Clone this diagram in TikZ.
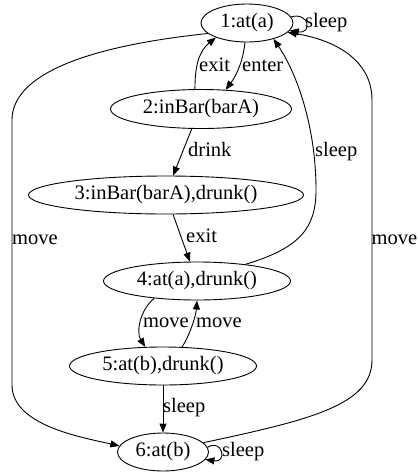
\documentclass[tikz,border=0pt]{standalone}
\usepackage{fontspec}
\setmainfont{Liberation Serif}
\usetikzlibrary{shapes.geometric,arrows.meta}
\begin{document}
\begin{tikzpicture}[x=1pt,y=-1pt,
  st/.style={draw, ellipse, inner sep=0pt, line width=0.9pt, minimum height=38pt, font=\fontsize{20.5}{24}\selectfont},
  lbl/.style={inner sep=0pt, anchor=west, font=\fontsize{20.5}{24}\selectfont, text height=14pt, text depth=4.5pt},
  arr/.style={line width=0.9pt, -{Triangle[length=9pt,width=7pt]}}]
\useasboundingbox (0,0) rectangle (418,475);
% states
\node[st, minimum width=92pt] (n1) at (247,23) {1:at(a)};
\node[st, minimum width=181pt, minimum height=39pt] (n2) at (201,109) {2:inBar(barA)};
\node[st, minimum width=275pt] (n3) at (166,195) {3:inBar(barA),drunk()};
\node[st, minimum width=187pt] (n4) at (197,281) {4:at(a),drunk()};
\node[st, minimum width=187pt] (n5) at (163,366) {5:at(b),drunk()};
\node[st, minimum width=91pt] (n6) at (163,452) {6:at(b)};
% labels
\node[lbl] (l1) at (305,23) {sleep};
\node[lbl] (l2) at (242,67) {enter};
\node[lbl] (l3) at (199,67) {exit};
\node[lbl] (l4) at (188,152) {drink};
\node[lbl] (l5) at (315,152) {sleep};
\node[lbl] (l6) at (186,238) {exit};
\node[lbl] (l7) at (12,240) {move};
\node[lbl] (l8) at (371.5,240) {move};
\node[lbl] (l9) at (143,323) {move};
\node[lbl] (l10) at (196,323) {move};
\node[lbl] (l11) at (163,408) {sleep};
\node[lbl] (l12) at (222,452) {sleep};
% transitions
\draw[arr] (n1.8) .. controls (310,12) and (312,34) .. (n1.-10);
\draw[arr] (n1.264) .. controls (243,62) and (236,76) .. (n2.38);
\draw[arr] (n2.107) .. controls (195,68) and (198,52) .. (n1.205);
\draw[arr] (n2.245) -- (n3.70);
\draw[arr] (n3.290) -- (n4.110);
\draw[arr] (n4.19) .. controls (300,248) and (316,228) .. (316,190) .. controls (316,125) and (296,72) .. (n1.329);
\draw[arr] (n1.195) .. controls (70,48) and (12,80) .. (12,120) -- (12,385) .. controls (12,425) and (80,437) .. (n6.172);
\draw[arr] (n6.13) .. controls (310,420) and (372,405) .. (372,360) -- (372,100) .. controls (372,60) and (335,40) .. (n1.347);
\draw[arr] (n4.202) .. controls (140,310) and (136,332) .. (n5.133);
\draw[arr] (n5.45) .. controls (190,335) and (196,315) .. (n4.270);
\draw[arr] (n5.270) -- (n6.90);
\draw[arr] (n6.6) .. controls (222,438) and (228,463) .. (n6.-10);
\end{tikzpicture}
\end{document}
